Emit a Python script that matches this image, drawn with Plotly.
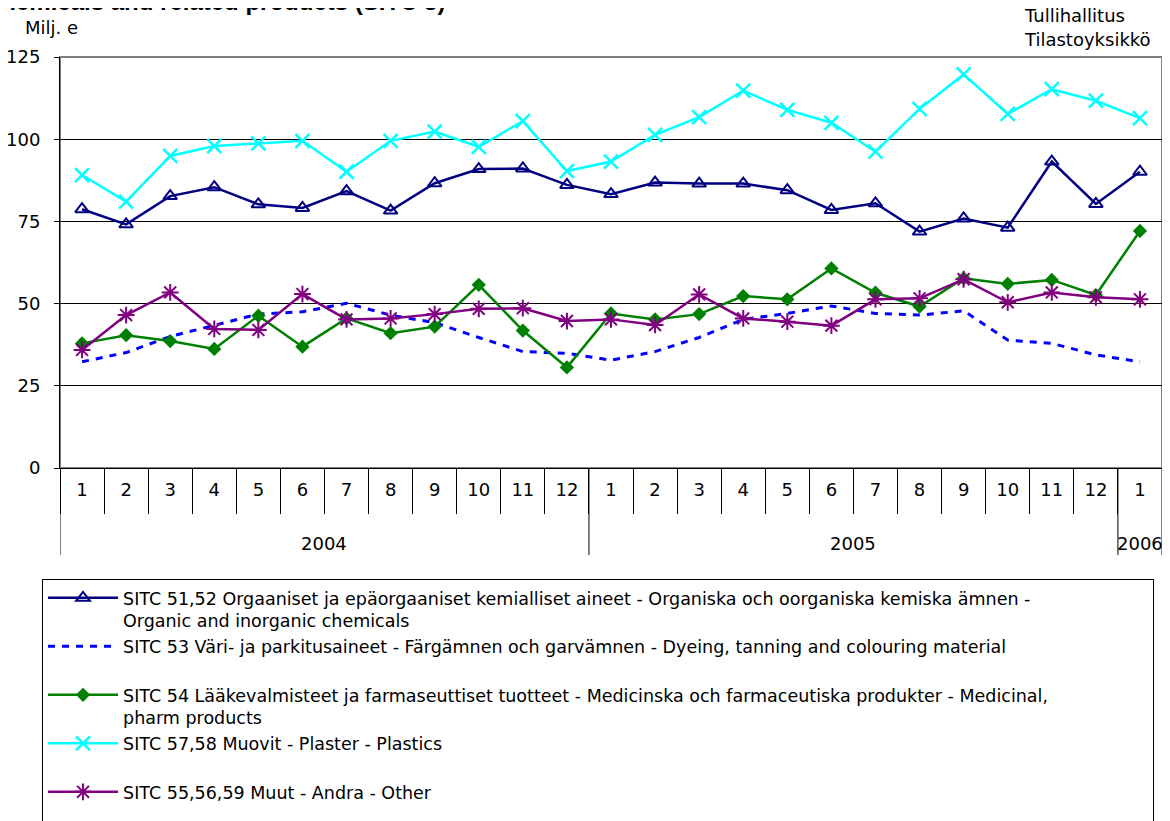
import plotly.graph_objects as go

year_labels = ["2004"] * 12 + ["2005"] * 12 + ["2006"]
month_labels = ["1", "2", "3", "4", "5", "6", "7", "8", "9", "10", "11", "12",
                "1", "2", "3", "4", "5", "6", "7", "8", "9", "10", "11", "12", "1"]

organic = [78.7, 74.1, 82.7, 85.4, 80.2, 79.1, 84.2, 78.3, 86.6, 90.9, 91.1, 86.1,
           83.3, 86.8, 86.5, 86.5, 84.5, 78.5, 80.5, 71.9, 75.9, 73.1, 93.2, 80.3, 90.1]
dyeing = [32.3, 35.1, 40.0, 43.5, 46.8, 47.5, 50.1, 46.5, 44.2, 39.7, 35.4, 34.9,
          32.8, 35.4, 39.7, 45.2, 47.0, 49.3, 47.0, 46.5, 47.8, 38.9, 37.9, 34.4, 32.3]
medicinal = [37.9, 40.4, 38.6, 36.2, 46.3, 36.9, 45.5, 41.0, 43.0, 55.7, 41.8, 30.6,
             47.0, 45.2, 46.8, 52.3, 51.3, 60.7, 53.3, 49.1, 57.7, 56.0, 57.2, 52.6, 72.1]
plastics = [89.1, 81.0, 94.9, 97.9, 98.7, 99.5, 90.1, 99.5, 102.3, 97.7, 105.5, 90.3,
            93.2, 101.3, 106.7, 114.8, 108.9, 105.0, 96.2, 109.2, 119.7, 107.7, 115.2, 111.7, 106.4]
other = [35.9, 46.5, 53.4, 42.3, 42.0, 52.9, 45.2, 45.5, 46.8, 48.4, 48.6, 44.7,
         45.2, 43.5, 52.8, 45.5, 44.5, 43.3, 51.3, 51.6, 57.4, 50.4, 53.4, 51.9, 51.3]

pad = "\u00a0" * 21  # widens the legend box like the original
names = [
    "SITC 51,52 Orgaaniset ja epäorgaaniset kemialliset aineet - Organiska och oorganiska kemiska ämnen -" + pad
    + "<br>Organic and inorganic chemicals",
    "SITC 53 Väri- ja parkitusaineet - Färgämnen och garvämnen - Dyeing, tanning and colouring material<br> ",
    "SITC 54 Lääkevalmisteet ja farmaseuttiset tuotteet - Medicinska och farmaceutiska produkter - Medicinal,<br>pharm products",
    "SITC 57,58 Muovit - Plaster - Plastics<br> ",
    "SITC 55,56,59 Muut - Andra - Other<br> <br> ",
]

# unique category keys, month numbers shown as tick text
keys = [f"{y}-{m}" for y, m in zip(year_labels, month_labels)]
font = "DejaVu Sans, Liberation Sans, sans-serif"

fig = go.Figure()
fig.add_trace(go.Scatter(x=keys, y=organic, name=names[0], mode="lines+markers",
                         line=dict(color="#000080", width=2.5),
                         marker=dict(symbol="triangle-up-open", size=12, color="#000080",
                                     line=dict(width=2, color="#000080"))))
fig.add_trace(go.Scatter(x=keys, y=dyeing, name=names[1], mode="lines",
                         line=dict(color="#0000FF", width=3, dash="7px,7px")))
fig.add_trace(go.Scatter(x=keys, y=medicinal, name=names[2], mode="lines+markers",
                         line=dict(color="#008000", width=2.5),
                         marker=dict(symbol="diamond", size=11, color="#008000")))
fig.add_trace(go.Scatter(x=keys, y=plastics, name=names[3], mode="lines+markers",
                         line=dict(color="#00FFFF", width=2.5),
                         marker=dict(symbol="x-thin", size=14, color="#00FFFF",
                                     line=dict(width=2.5, color="#00FFFF"))))
fig.add_trace(go.Scatter(x=keys, y=other, name=names[4], mode="lines+markers",
                         line=dict(color="#800080", width=2.5),
                         marker=dict(symbol="asterisk", size=14, color="#800080",
                                     line=dict(width=2, color="#800080"))))

# year labels centred under their months, dividers at year boundaries
years = []
for yv in year_labels:
    if yv not in years:
        years.append(yv)
annotations = []
shapes = [dict(type="rect", xref="paper", yref="paper", x0=0, y0=0, x1=1, y1=1,
               line=dict(color="#808080", width=2), layer="below")]
bounds = [-0.5]
for yv in years:
    idx = [i for i, v in enumerate(year_labels) if v == yv]
    annotations.append(dict(text=yv, xref="x", yref="paper", x=sum(idx) / len(idx),
                            y=-0.1825, xanchor="center", yanchor="middle", showarrow=False))
    bounds.append(idx[-1] + 0.5)
for b in bounds:
    shapes.append(dict(type="line", xref="x", yref="paper", x0=b, x1=b, y0=0, y1=-0.2117,
                       line=dict(color="black", width=1)))

annotations += [
    dict(text="<b>Chemicals and related products (SITC 5)</b>", xref="paper", yref="paper",
         x=(447 - 60) / 1102, y=1.0973, xanchor="right", yanchor="bottom", showarrow=False,
         font=dict(size=24, family="Liberation Sans, Arial, sans-serif")),
    dict(text="Milj. e", xref="paper", yref="paper", x=-0.0336, y=1.0718,
         xanchor="left", yanchor="middle", showarrow=False),
    dict(text="Tullihallitus", xref="paper", yref="paper", x=0.873, y=1.0998,
         xanchor="left", yanchor="middle", showarrow=False),
    dict(text="Tilastoyksikkö", xref="paper", yref="paper", x=0.873, y=1.0414,
         xanchor="left", yanchor="middle", showarrow=False),
]

# page adds an 8px body margin, so the figure is 8px smaller and shifted
fig.update_layout(
    width=1162, height=813,
    margin=dict(l=52, r=8, t=49, b=353, autoexpand=False),
    paper_bgcolor="white", plot_bgcolor="white",
    font=dict(family=font, size=18, color="black"),
    legend=dict(x=-0.0163, y=-0.27, xanchor="left", yanchor="top",
                bordercolor="black", borderwidth=1, bgcolor="white",
                itemwidth=70, valign="top", font=dict(size=17.5),
                tracegroupgap=0),
    shapes=shapes,
    annotations=annotations,
)
fig.update_yaxes(range=[0, 125], dtick=25, showgrid=True, gridcolor="black", gridwidth=1,
                 showline=True, linecolor="black", linewidth=1,
                 ticks="outside", ticklen=5, tickcolor="black", zeroline=False,
                 ticklabelstandoff=10)
fig.update_xaxes(type="category", range=[-0.5, len(keys) - 0.5],
                 tickvals=keys, ticktext=month_labels, tickson="boundaries",
                 showline=True, linecolor="black", linewidth=1,
                 ticks="outside", ticklen=45, tickcolor="black", showgrid=False,
                 ticklabelstandoff=5)

fig.write_html("out.html")
